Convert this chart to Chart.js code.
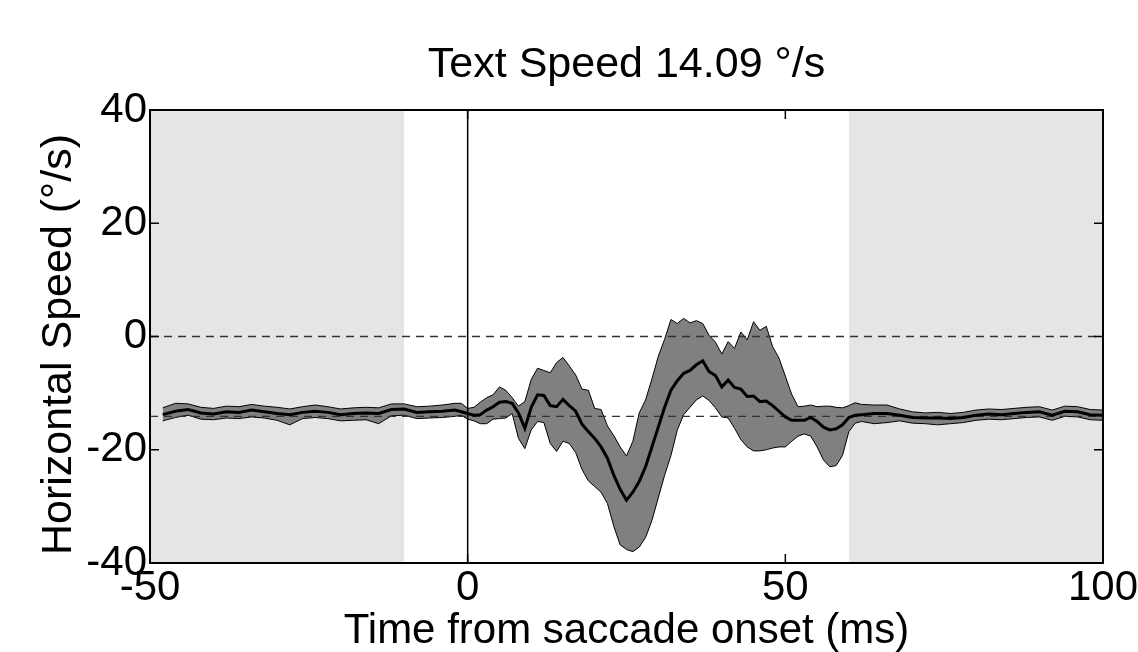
<!DOCTYPE html>
<html>
<head>
<meta charset="utf-8">
<script src="https://cdn.jsdelivr.net/npm/chart.js@4.4.1/dist/chart.umd.min.js"></script>
<style>
  html, body { margin: 0; padding: 0; background: #fff; }
  #wrap { width: 1138px; height: 652px; }
</style>
</head>
<body>
<div id="wrap"><canvas id="c" width="1138" height="652"></canvas></div>
<script>
// ---- Data ----
const titleText = "Text Speed 14.09 °/s";
const yTitleText = "Horizontal Speed (°/s)";
const textSpeed = -14.09;
const xTickValues = [-50, 0, 50, 100];
const yTickValues = [-40, -20, 0, 20, 40];
const shadedWindows = [[-50, -10], [60, 100]];

const timesLeft = [-48,-46,-44,-42,-40,-38,-36,-34,-32,-30,-28,-26,-24,-22,-20,-18,-16,-14,-12,-10,-8,-6,-4,-2];
const meanLeft  = [-13.8,-13.2,-12.9,-13.5,-13.7,-13.3,-13.4,-13.0,-13.3,-13.6,-13.8,-13.4,-13.2,-13.4,-13.8,-13.6,-13.5,-13.6,-12.9,-12.8,-13.4,-13.3,-13.2,-13.0];
const upperLeft = [-12.6,-11.8,-11.9,-12.5,-12.7,-12.3,-12.4,-12.0,-12.3,-12.5,-12.8,-12.4,-12.1,-12.4,-12.8,-12.6,-12.5,-12.6,-11.9,-11.9,-12.4,-12.3,-12.1,-11.8];
const lowerLeft = [-14.9,-14.3,-13.9,-14.6,-14.7,-14.4,-14.5,-14.2,-14.4,-14.8,-15.6,-14.5,-14.3,-14.5,-14.9,-14.8,-14.7,-15.4,-14.0,-13.9,-14.5,-14.4,-14.3,-14.1];

const timesMid = [-1,0,1,2,3,4,5,6,7,8,9,10,11,12,13,14,15,16,17,18,19,20,21,22,23,24,25,26,27,28,29,30,31,32,33,34,35,36,37,38,39,40,41,42,43,44,45,46,47,48,49,50,51,52,53,54,55,56,57,58,59,60,61,62];
const meanMid  = [-13.3,-13.6,-13.9,-13.8,-13.0,-12.4,-11.6,-11.5,-11.8,-13.5,-16.2,-12.5,-10.3,-10.4,-12.2,-12.4,-11.1,-12.2,-13.2,-15.5,-16.8,-18.0,-19.5,-21.5,-24.5,-27.0,-28.9,-27.5,-25.6,-23.0,-19.5,-16.0,-12.5,-9.5,-7.8,-6.5,-6.0,-5.0,-4.3,-6.2,-6.9,-8.9,-7.7,-9.0,-9.3,-10.6,-10.5,-11.5,-11.4,-12.2,-13.2,-14.2,-14.8,-14.8,-14.8,-14.3,-15.0,-16.0,-16.5,-16.3,-15.6,-14.3,-13.9,-13.8];
const upperMid = [-11.8,-12.7,-12.5,-11.6,-10.8,-10.3,-8.9,-9.5,-10.8,-12.3,-11.5,-7.6,-5.6,-6.0,-6.4,-4.6,-3.7,-5.2,-6.8,-9.3,-9.5,-12.7,-12.9,-15.8,-17.5,-19.5,-21.1,-18.5,-13.5,-11.2,-7.5,-3.5,-0.5,3.0,2.3,3.2,2.4,2.8,2.3,0.2,-1.0,-3.1,-0.9,-2.1,0.8,-0.6,2.6,1.1,1.8,-1.8,-3.8,-7.0,-10.2,-12.4,-12.3,-12.1,-12.4,-12.3,-12.3,-12.5,-12.6,-12.2,-11.7,-12.0];
const lowerMid = [-13.9,-14.6,-14.9,-15.4,-15.4,-14.6,-14.5,-14.4,-13.6,-18.0,-19.8,-16.5,-15.0,-15.2,-18.9,-20.3,-18.5,-18.9,-20.5,-23.5,-25.5,-26.5,-27.5,-29.5,-33.5,-36.8,-37.6,-38.0,-37.2,-35.5,-32.5,-28.5,-24.5,-21.0,-16.5,-13.8,-12.5,-11.2,-10.5,-11.3,-12.6,-14.2,-14.4,-16.2,-18.2,-19.5,-20.2,-20.2,-20.0,-19.7,-19.5,-19.5,-18.5,-17.6,-17.2,-17.6,-19.5,-21.8,-23.0,-22.8,-21.0,-16.8,-15.3,-15.0];

const timesRight = [64,66,68,70,72,74,76,78,80,82,84,86,88,90,92,94,96,98,100];
const meanRight  = [-13.6,-13.6,-13.9,-14.3,-14.4,-14.4,-14.5,-14.3,-13.9,-13.7,-13.8,-13.6,-13.4,-13.3,-13.9,-13.2,-13.3,-13.8,-13.9];
const upperRight = [-12.1,-12.1,-12.8,-13.3,-13.5,-13.4,-13.6,-13.4,-13.0,-12.8,-12.9,-12.7,-12.5,-12.4,-13.0,-12.3,-12.4,-12.9,-13.0];
const lowerRight = [-15.4,-15.2,-14.9,-15.3,-15.4,-15.6,-15.4,-15.2,-14.8,-14.6,-14.7,-14.5,-14.3,-14.2,-14.8,-14.1,-14.2,-14.7,-14.8];

const times = timesLeft.concat(timesMid, timesRight);
const meanSpeed = meanLeft.concat(meanMid, meanRight);
const upperBound = upperLeft.concat(upperMid, upperRight);
const lowerBound = lowerLeft.concat(lowerMid, lowerRight);

const pts = (xs, ys) => xs.map((x, i) => ({x: x, y: ys[i]}));

const font = "'Liberation Sans', Arial, sans-serif";

// ---- Plugins ----
const shadePlugin = {
  id: 'shade',
  beforeDatasetsDraw(chart) {
    const {ctx, chartArea: a, scales: {x}} = chart;
    ctx.save();
    ctx.fillStyle = '#e5e5e5';
    shadedWindows.forEach(([s, e]) => {
      const x0 = x.getPixelForValue(s), x1 = x.getPixelForValue(e);
      ctx.fillRect(x0, a.top, x1 - x0, a.bottom - a.top);
    });
    ctx.restore();
  }
};

const framePlugin = {
  id: 'frame',
  afterDraw(chart) {
    const {ctx, chartArea: a, scales: {x, y}} = chart;
    ctx.save();
    ctx.strokeStyle = '#000';
    ctx.lineWidth = 1.5;
    const L = 9;
    ctx.beginPath();
    xTickValues.forEach(v => {
      const px = x.getPixelForValue(v);
      ctx.moveTo(px, a.bottom); ctx.lineTo(px, a.bottom - L);
      ctx.moveTo(px, a.top); ctx.lineTo(px, a.top + L);
    });
    yTickValues.forEach(v => {
      const py = y.getPixelForValue(v);
      ctx.moveTo(a.left, py); ctx.lineTo(a.left + L, py);
      ctx.moveTo(a.right, py); ctx.lineTo(a.right - L, py);
    });
    ctx.stroke();
    ctx.lineWidth = 2;
    ctx.strokeRect(a.left, a.top, a.right - a.left, a.bottom - a.top);
    // chart title, centred over the plot area
    ctx.fillStyle = '#000';
    ctx.font = "43px " + font;
    ctx.textAlign = 'center';
    ctx.textBaseline = 'alphabetic';
    ctx.fillText(titleText, (a.left + a.right) / 2, 77);
    // y-axis title
    ctx.translate(59, (a.top + a.bottom) / 2 + 8);
    ctx.rotate(-Math.PI / 2);
    ctx.textBaseline = 'middle';
    ctx.fillText(yTitleText, 0, 0);
    ctx.restore();
  }
};

new Chart(document.getElementById('c'), {
  type: 'line',
  data: {
    datasets: [
      { order: 5, data: pts(times, upperBound), borderColor: '#000', borderWidth: 1, backgroundColor: '#808080', fill: '+1', pointRadius: 0, tension: 0 },
      { order: 4, data: pts(times, lowerBound), borderColor: '#000', borderWidth: 1, fill: false, pointRadius: 0, tension: 0 },
      { order: 0, data: pts(times, meanSpeed), borderColor: '#000', borderWidth: 3, fill: false, pointRadius: 0, tension: 0 },
      { order: 1, data: pts([-50, 100], [0, 0]), borderColor: '#333', borderWidth: 1.3, borderDash: [8, 6], fill: false, pointRadius: 0 },
      { order: 1, data: pts([-50, 100], [textSpeed, textSpeed]), borderColor: '#333', borderWidth: 1.3, borderDash: [8, 6], fill: false, pointRadius: 0 },
      { order: 1, data: pts([0, 0], [-40, 40]), borderColor: '#000', borderWidth: 1.5, fill: false, pointRadius: 0 }
    ]
  },
  options: {
    responsive: false,
    animation: false,
    devicePixelRatio: 1,
    layout: { padding: { left: 0, right: 35, top: 110, bottom: 0 } },
    plugins: {
      legend: { display: false },
      tooltip: { enabled: false },
      title: { display: false }
    },
    scales: {
      x: {
        type: 'linear',
        min: -50, max: 100,
        grid: { display: false, drawTicks: false, tickLength: 0 },
        border: { display: false },
        afterBuildTicks: s => { s.ticks = xTickValues.map(v => ({value: v})); },
        ticks: { color: '#000', font: { family: font, size: 42, lineHeight: 1.2 }, padding: 0, maxRotation: 0, autoSkip: false },
        title: { display: true, text: 'Time from saccade onset (ms)', color: '#000', font: { family: font, size: 42, lineHeight: 1 }, padding: { top: 0, bottom: 0 } },
        afterFit: s => { s.height = 89; s.paddingLeft = 0; s.paddingRight = 0; }
      },
      y: {
        type: 'linear',
        min: -40, max: 40,
        grid: { display: false, drawTicks: false, tickLength: 0 },
        border: { display: false },
        afterBuildTicks: s => { s.ticks = yTickValues.map(v => ({value: v})); },
        ticks: { color: '#000', font: { family: font, size: 42, lineHeight: 1.2 }, padding: 3 },
        title: { display: false },
        afterFit: s => { s.width = 150; s.paddingTop = 0; s.paddingBottom = 0; }
      }
    }
  },
  plugins: [shadePlugin, framePlugin]
});
</script>
</body>
</html>
